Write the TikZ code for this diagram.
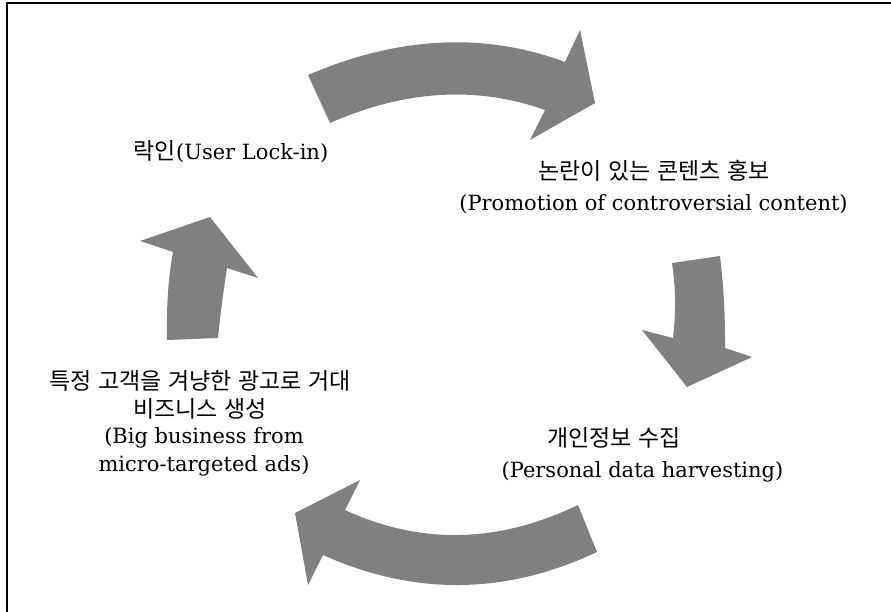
\documentclass[tikz,border=0pt]{standalone}
\usepackage{fontspec}
\setmainfont{DejaVu Serif}
\newfontfamily\krfont[WordSpace=1.3]{Noto Sans CJK KR}
\newcommand{\kor}[1]{{\krfont\fontsize{23}{27}\selectfont #1}}
\definecolor{arrowgray}{RGB}{128,128,128}
\begin{document}
\begin{tikzpicture}[x=1pt,y=-1pt,
  cyclearrow/.style={fill=arrowgray,draw=none},
  label/.style={align=center,inner sep=0pt,text=black,font=\fontsize{21}{28}\selectfont}]
\useasboundingbox (0,0) rectangle (891,612);
\fill[white] (0,0) rectangle (891,612);
% frame (only left and top edges visible)
\draw[line width=1.6pt] (7,612) -- (7,3) -- (891,3);

% top arrow (to the right)
\fill[cyclearrow] (308,75) .. controls (398.3,36.3) and (484,31.9) .. (565,62) -- (580,30) -- (595,103)
  -- (530,140) -- (545,110) .. controls (476.7,85.7) and (405,90) .. (330,123) -- cycle;
% right arrow (down)
\fill[cyclearrow] (672,263) -- (720,256) .. controls (723.7,286.7) and (725.3,317.3) .. (725,348) -- (752,357)
  -- (687,387) -- (642,330) -- (673,338) .. controls (676,312.3) and (675.7,287.3) .. (672,263) -- cycle;
% bottom arrow (to the left)
\fill[cyclearrow] (578,505) -- (597,552) .. controls (505.7,595) and (414.3,596) .. (323,555) -- (308,585)
  -- (295,513) -- (360,480) -- (345,510) .. controls (420.7,545) and (498.3,543.3) .. (578,505) -- cycle;
% left arrow (up)
\fill[cyclearrow] (167,340) -- (218,338) .. controls (220.3,314.7) and (223.3,291.3) .. (227,268) -- (258,278)
  -- (210,217) -- (140,241) -- (173,252) .. controls (168.3,277.3) and (166.3,306.7) .. (167,340) -- cycle;

% texts
\node[label] (lockin) at (231,152) {\kor{락인}(User Lock-in)};
\node[label] (promokr) at (654,171) {\kor{논란이 있는 콘텐츠 홍보}};
\node[label] (promoen) at (653.5,204) {(Promotion of controversial content)};
\node[label] (personalkr) at (614,438) {\kor{개인정보 수집}};
\node[label] (personalen) at (642.5,472) {(Personal data harvesting)};
\node[label] (bigbizkr) at (200,395) {\kor{특정 고객을 겨냥한 광고로 거대}\\\kor{비즈니스 생성}};
\node[label] (bigbizen) at (204,452) {(Big business from\\micro-targeted ads)};
\end{tikzpicture}
\end{document}
